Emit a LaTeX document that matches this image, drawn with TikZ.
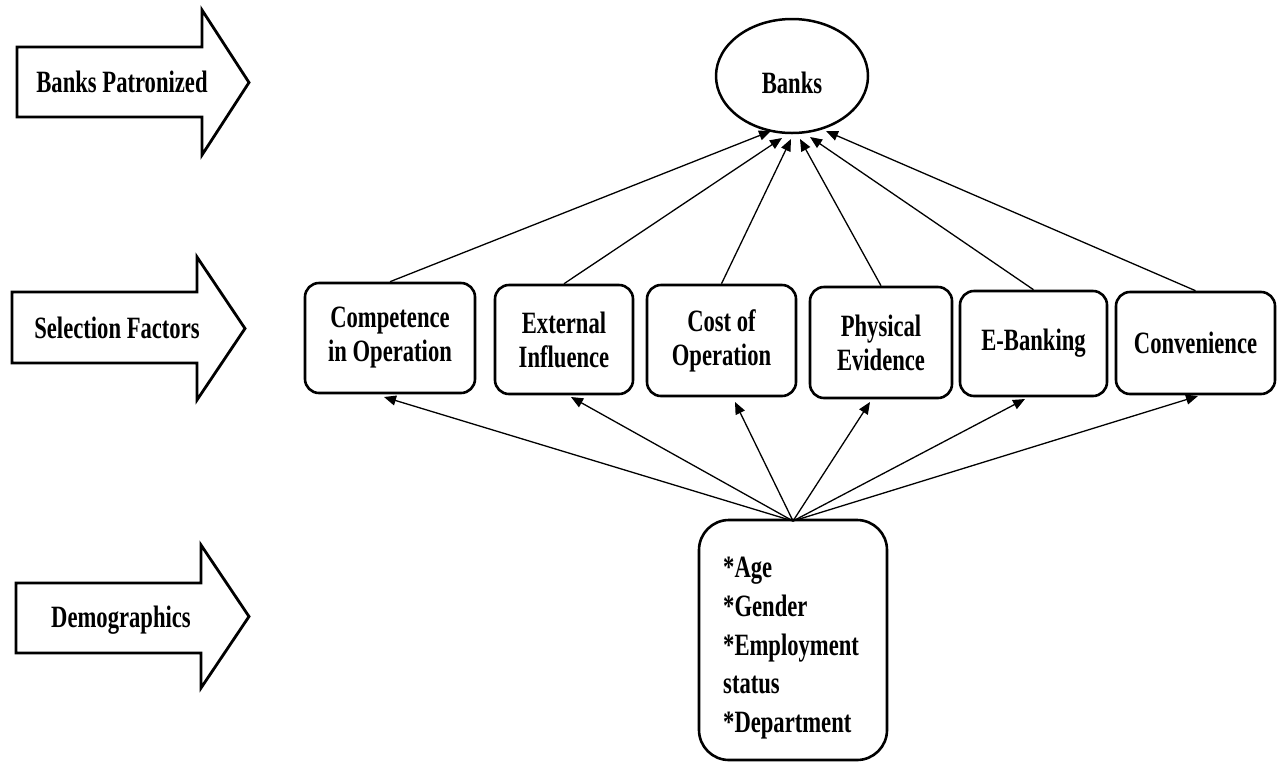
\documentclass[tikz,border=0pt]{standalone}
\usepackage{fontspec}
\setmainfont{Liberation Serif}[FakeStretch=0.73]
\usetikzlibrary{arrows.meta,shapes.geometric}
\begin{document}
\begin{tikzpicture}[x=1pt,y=-1pt,
  every node/.style={font=\fontsize{31}{34}\selectfont\bfseries},
  blockarrow/.style={draw=black,line width=2.8pt,line join=miter,fill=white},
  factor/.style={draw,line width=2.6pt,rounded corners=14pt,inner sep=0pt,align=center},
  link/.style={line width=1.3pt,-{Triangle[length=12pt,width=10pt]}}]
\useasboundingbox[fill=white] (0,0) rectangle (1282,764);

% block arrows on the left
\draw[blockarrow] (17,47) -- (202,47) -- (202,10) -- (249,82.5) -- (202,155) -- (202,117) -- (17,117) -- cycle;
\node[anchor=base] (lbl1) at (122,92) {Banks Patronized};
\draw[blockarrow] (12,292) -- (197,292) -- (197,257) -- (245,328.5) -- (197,400) -- (197,363) -- (12,363) -- cycle;
\node[anchor=base] (lbl2) at (117,338) {Selection Factors};
\draw[blockarrow] (16,583) -- (201,583) -- (201,545) -- (249,616.5) -- (201,688) -- (201,653) -- (16,653) -- cycle;
\node[anchor=base] (lbl3) at (121,627) {Demographics};

% Banks ellipse
\node[ellipse,draw,line width=2.5pt,minimum width=152pt,minimum height=114pt,inner sep=0pt,
      text height=34pt,text depth=0pt] (banks) at (792,76) {Banks};

% selection factors
\node[factor,minimum width=170pt,minimum height=110pt] (b1) at (390,338) {Competence\\in Operation};
\node[factor,minimum width=138pt,minimum height=109pt] (b2) at (564,339.5) {External\\Influence};
\node[factor,minimum width=149pt,minimum height=111pt] (b3) at (721.5,340.5) {Cost of\\Operation};
\node[factor,minimum width=142pt,minimum height=111pt] (b4) at (881,342.5) {Physical\\Evidence};
\node[factor,minimum width=147pt,minimum height=105pt] (b5) at (1033.5,343.5) {E-Banking};
\node[factor,minimum width=159pt,minimum height=102pt] (b6) at (1195.5,343) {Convenience};

% demographics box
\node[draw,line width=2.6pt,rounded corners=30pt,minimum width=188pt,minimum height=240pt,inner sep=0pt] (demo) at (793,640) {};
\node[anchor=north west,align=left,inner sep=0pt,font=\fontsize{31}{38.75}\selectfont\bfseries] (demotext) at (723,557)
  {*Age\\*Gender\\*Employment\\status\\*Department};

% arrow tip coordinates
\coordinate (t1) at (771,131);
\coordinate (t2) at (782,138);
\coordinate (t3) at (791,139);
\coordinate (t4) at (800,139);
\coordinate (t5) at (810,137);
\coordinate (t6) at (826,131);
\coordinate (u1) at (384,397);
\coordinate (u2) at (571,397);
\coordinate (u3) at (735,402);
\coordinate (u4) at (870,402);
\coordinate (u5) at (1025,399);
\coordinate (u6) at (1198,396);
\coordinate (d0) at (793,521);

% connectors to Banks
\draw[link] (b1.north) -- (t1);
\draw[link] (b2.north) -- (t2);
\draw[link] (b3.north) -- (t3);
\draw[link] (b4.north) -- (t4);
\draw[link] (b5.north) -- (t5);
\draw[link] (b6.north) -- (t6);

% connectors from demographics
\draw[link] (d0) -- (u1);
\draw[link] (d0) -- (u2);
\draw[link] (d0) -- (u3);
\draw[link] (d0) -- (u4);
\draw[link] (d0) -- (u5);
\draw[link] (d0) -- (u6);
\end{tikzpicture}
\end{document}
